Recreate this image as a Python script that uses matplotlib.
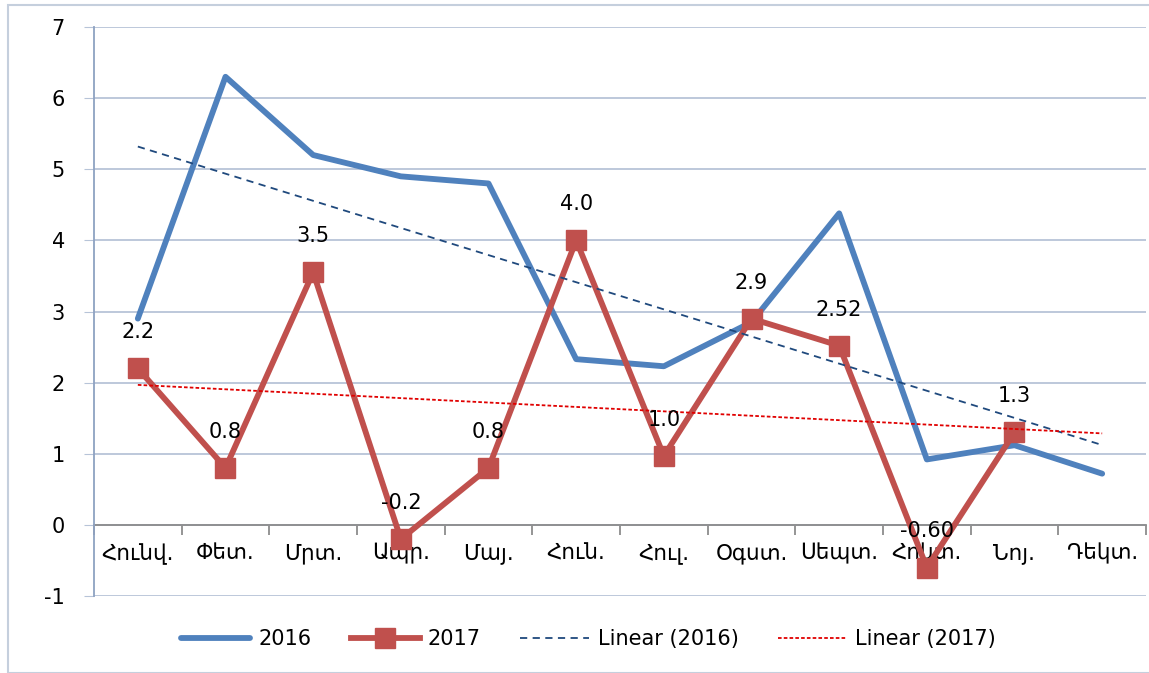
import numpy as np
import matplotlib.pyplot as plt
from matplotlib.patches import Rectangle

months = ['Հունվ.', 'Փետ.', 'Մրտ.', 'Ապր.', 'Մայ.', 'Հուն.', 'Հուլ.',
          'Օգստ.', 'Սեպտ.', 'Հոկտ.', 'Նոյ.', 'Դեկտ.']
vals_2016 = [2.9, 6.3, 5.2, 4.9, 4.8, 2.33, 2.23, 2.85, 4.38, 0.92, 1.12, 0.72]
vals_2017 = [2.2, 0.8, 3.55, -0.2, 0.8, 4.0, 0.97, 2.9, 2.52, -0.6, 1.3]
labels_2017 = ['2.2', '0.8', '3.5', '-0.2', '0.8', '4.0', '1.0', '2.9', '2.52', '-0.60', '1.3']

blue = '#4F81BD'
red = '#C0504D'
grid_c = '#B7C4D8'

plt.rcParams['font.family'] = ['DejaVu Sans']
plt.rcParams['axes.unicode_minus'] = False

fig = plt.figure(figsize=(11.49, 6.73), dpi=100)
ax = fig.add_axes([94 / 1149, 1 - 596 / 673, 1052 / 1149, 569 / 673])

x16 = np.arange(len(vals_2016))
x17 = np.arange(len(vals_2017))
xall = np.arange(len(months))

# trend lines (least squares, like Excel)
p16 = np.polyfit(x16, vals_2016, 1)
p17 = np.polyfit(x17, vals_2017, 1)

ax.plot(x16, vals_2016, color=blue, lw=4.2, solid_joinstyle='round',
        solid_capstyle='round', label='2016', zorder=3)
ax.plot(x17, vals_2017, color=red, lw=4.2, marker='s', markersize=14,
        label='2017', zorder=4)
ax.plot(xall, np.polyval(p16, xall), color='#1F497D', lw=1.3,
        linestyle=(0, (4, 3)), label='Linear (2016)', zorder=5)
ax.plot(xall, np.polyval(p17, xall), color='#E00000', lw=1.3,
        linestyle=(0, (2, 1.2)), label='Linear (2017)', zorder=5)

for xi, yi, t in zip(x17, vals_2017, labels_2017):
    ax.annotate(t, (xi, yi), xytext=(0, 26), textcoords='offset points',
                ha='center', va='center', fontsize=15, zorder=6)

ax.set_xlim(-0.5, 11.5)
ax.set_ylim(-1, 7)
ax.set_yticks(range(-1, 8))
ax.tick_params(axis='y', length=7, color=grid_c, labelsize=15, pad=14)
ax.yaxis.grid(True, color=grid_c, lw=1.3)
ax.set_axisbelow(True)

ax.spines['top'].set_visible(False)
ax.spines['right'].set_visible(False)
ax.spines['left'].set_color('#8EA2C2')
ax.spines['left'].set_linewidth(1.3)
ax.spines['bottom'].set_position(('data', 0))
ax.spines['bottom'].set_color('#8C8C8C')
ax.spines['bottom'].set_linewidth(1.3)
ax.spines['bottom'].set_zorder(2)

ax.set_xticks(xall)
ax.set_xticklabels(months)
ax.set_xticks(np.arange(-0.5, 12, 1), minor=True)
ax.tick_params(axis='x', which='major', length=0, labelsize=15.5, pad=13)
ax.tick_params(axis='x', which='minor', length=7, color='#8C8C8C', width=1.3)

leg = ax.legend(loc='upper center', bbox_to_anchor=(0.47, -0.025), ncol=4,
                frameon=False, fontsize=15, handlelength=3.3, columnspacing=1.9,
                handletextpad=0.4)

fig.patches.append(Rectangle((8 / 1149, 0), 1.2, 1 - 5 / 673, transform=fig.transFigure,
                             fill=False, ec='#C5CFDD', lw=1.5))

fig.savefig('out.png', dpi=100)
